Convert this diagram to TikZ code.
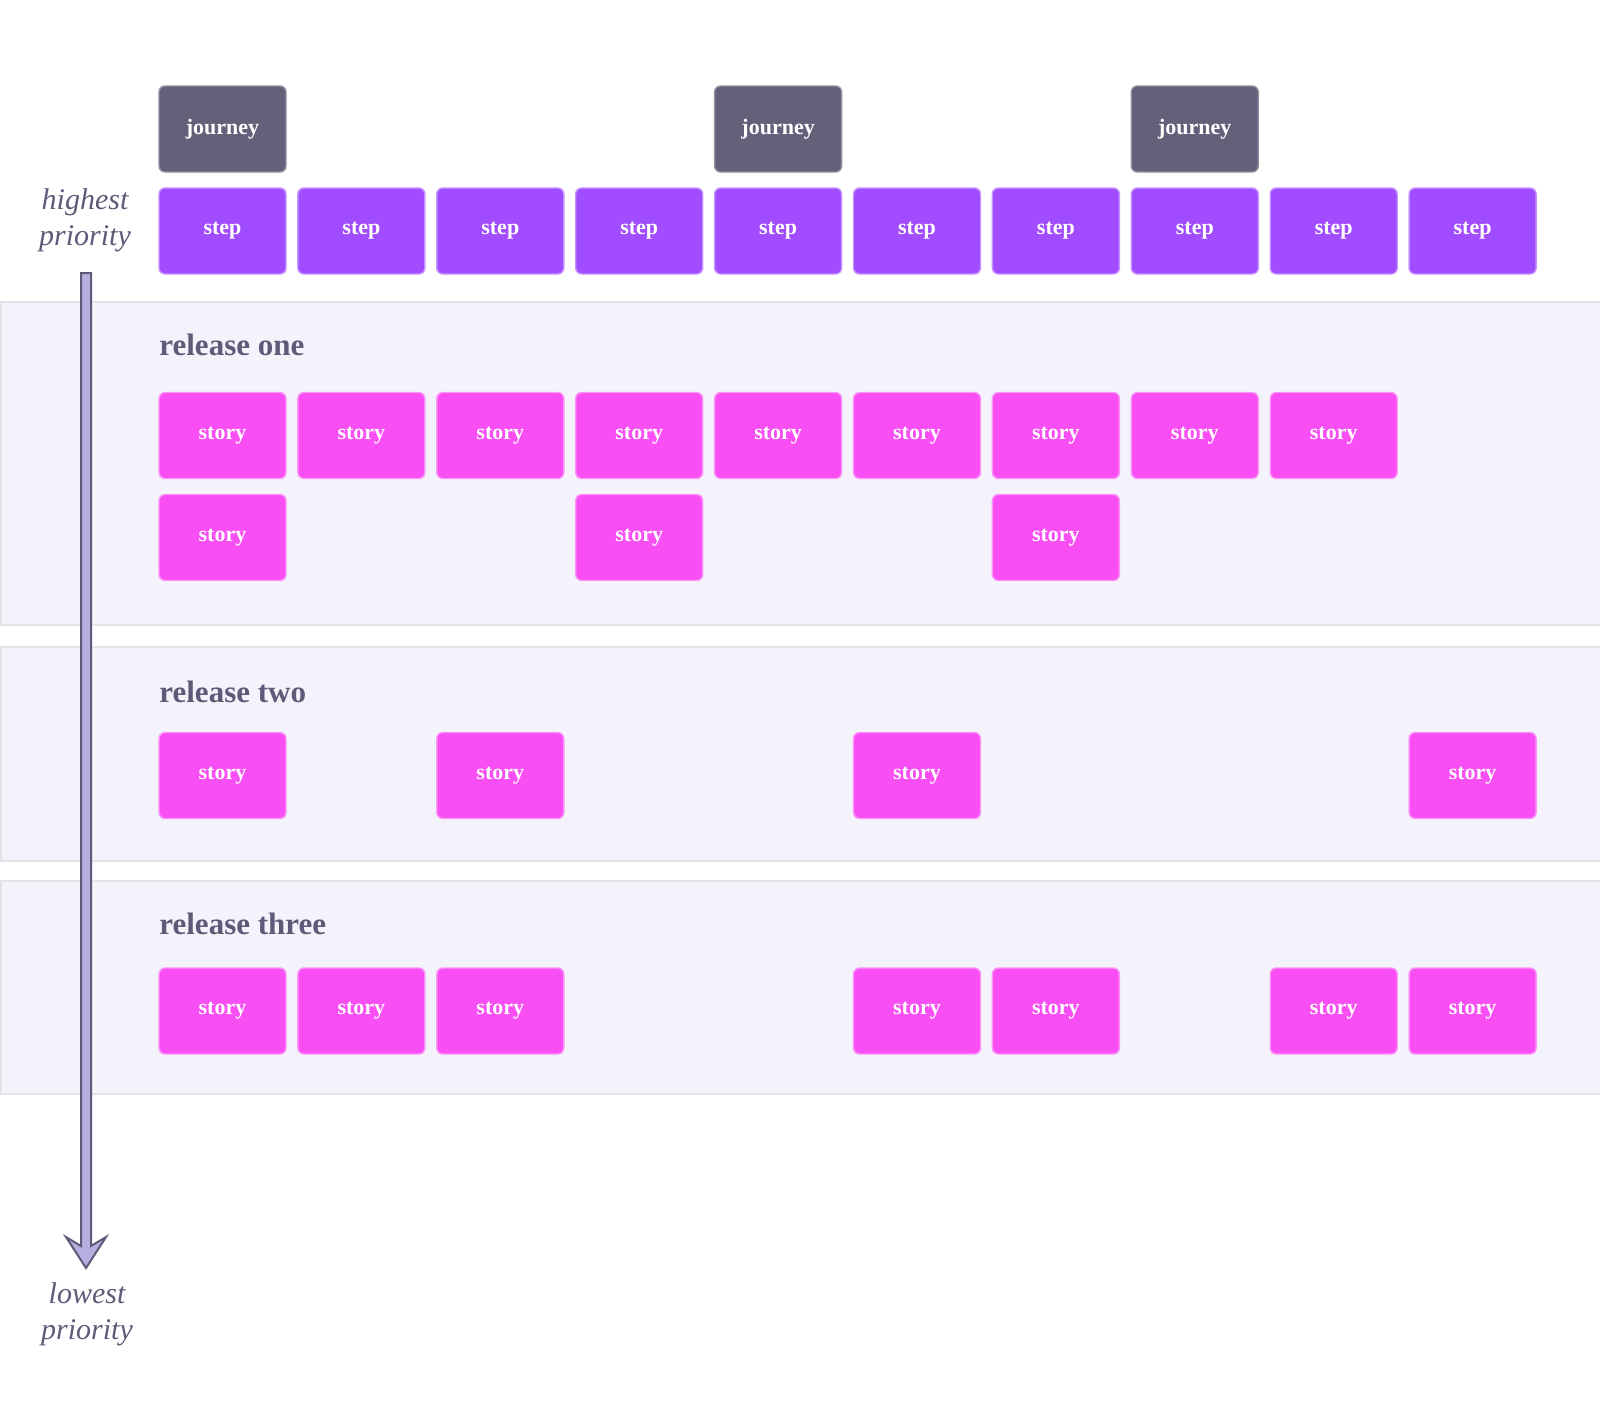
\documentclass[tikz,border=0pt]{standalone}
\usepackage{fontspec}
\setmainfont{Liberation Serif}
\usetikzlibrary{arrows}
\definecolor{journeyGrey}{HTML}{646079}
\definecolor{stepPurple}{HTML}{A14CFF}
\definecolor{storyPink}{HTML}{F84EF3}
\definecolor{bandFill}{HTML}{F4F3FC}
\definecolor{bandLine}{HTML}{E3E2E9}
\definecolor{inkGrey}{HTML}{5E5A77}
\definecolor{arrowFill}{HTML}{B8AEE0}

\begin{document}
\begin{tikzpicture}[x = 0.5pt, y = -0.5pt, font = \rmfamily]
	\tikzstyle{bandStyle} = [fill = bandFill, draw = bandLine, line width = 1pt]
	\tikzstyle{cardStyle} = [shape = rectangle, rounded corners = 3pt, minimum width = 63.5pt, minimum height = 43pt, inner sep = 0pt, line width = 0.7pt, text = white, font = \fontsize{11}{13}\selectfont\bfseries]
	\tikzstyle{journeyStyle} = [cardStyle, fill = journeyGrey, draw = journeyGrey!70!white]
	\tikzstyle{stepStyle} = [cardStyle, fill = stepPurple, draw = stepPurple!60!white]
	\tikzstyle{storyStyle} = [cardStyle, fill = storyPink, draw = storyPink!60!white]
	\tikzstyle{titleStyle} = [anchor = base west, inner sep = 0pt, text = inkGrey, font = \fontsize{15.5}{18}\selectfont\bfseries]
	\tikzstyle{priorityStyle} = [align = center, inner sep = 0pt, text = inkGrey, font = \fontsize{15}{18}\selectfont\itshape]
	\tikzstyle{arrowStyle} = [fill = arrowFill, draw = inkGrey, line width = 1pt, line join = miter]
	\useasboundingbox (0,0) rectangle (1600,1424);
	% release bands
	\draw[bandStyle] (1,302) rectangle (1620,625);
	\draw[bandStyle] (1,647) rectangle (1620,861);
	\draw[bandStyle] (1,881) rectangle (1620,1094);
	% journeys
	\node[journeyStyle] (j0) at (222.5,129) {journey};
	\node[journeyStyle] (j4) at (778.1,129) {journey};
	\node[journeyStyle] (j7) at (1194.8,129) {journey};
	% steps
	\node[stepStyle] (s0) at (222.5,231) {step};
	\node[stepStyle] (s1) at (361.4,231) {step};
	\node[stepStyle] (s2) at (500.3,231) {step};
	\node[stepStyle] (s3) at (639.2,231) {step};
	\node[stepStyle] (s4) at (778.1,231) {step};
	\node[stepStyle] (s5) at (917.0,231) {step};
	\node[stepStyle] (s6) at (1055.9,231) {step};
	\node[stepStyle] (s7) at (1194.8,231) {step};
	\node[stepStyle] (s8) at (1333.7,231) {step};
	\node[stepStyle] (s9) at (1472.6,231) {step};
	% release one
	\node[titleStyle] (rel1) at (159,355) {release one};
	\node[storyStyle] (r1a0) at (222.5,435.5) {story};
	\node[storyStyle] (r1a1) at (361.4,435.5) {story};
	\node[storyStyle] (r1a2) at (500.3,435.5) {story};
	\node[storyStyle] (r1a3) at (639.2,435.5) {story};
	\node[storyStyle] (r1a4) at (778.1,435.5) {story};
	\node[storyStyle] (r1a5) at (917.0,435.5) {story};
	\node[storyStyle] (r1a6) at (1055.9,435.5) {story};
	\node[storyStyle] (r1a7) at (1194.8,435.5) {story};
	\node[storyStyle] (r1a8) at (1333.7,435.5) {story};
	\node[storyStyle] (r1b0) at (222.5,537.5) {story};
	\node[storyStyle] (r1b3) at (639.2,537.5) {story};
	\node[storyStyle] (r1b6) at (1055.9,537.5) {story};
	% release two
	\node[titleStyle] (rel2) at (159,702) {release two};
	\node[storyStyle] (r2a0) at (222.5,775.5) {story};
	\node[storyStyle] (r2a2) at (500.3,775.5) {story};
	\node[storyStyle] (r2a5) at (917.0,775.5) {story};
	\node[storyStyle] (r2a9) at (1472.6,775.5) {story};
	% release three
	\node[titleStyle] (rel3) at (159,934) {release three};
	\node[storyStyle] (r3a0) at (222.5,1011) {story};
	\node[storyStyle] (r3a1) at (361.4,1011) {story};
	\node[storyStyle] (r3a2) at (500.3,1011) {story};
	\node[storyStyle] (r3a5) at (917.0,1011) {story};
	\node[storyStyle] (r3a6) at (1055.9,1011) {story};
	\node[storyStyle] (r3a8) at (1333.7,1011) {story};
	\node[storyStyle] (r3a9) at (1472.6,1011) {story};
	% priority arrow
	\node[priorityStyle] (high) at (85,220) {highest\\priority};
	\node[priorityStyle] (low) at (87,1314) {lowest\\priority};
	\coordinate (arrowTop) at (86,273);
	\coordinate (arrowTip) at (86,1268);
	\draw[arrowStyle] (arrowTop) ++(-5,0) -- ++(0,973) -- ++(-15,-9) -- (arrowTip) -- ++(20,-31) -- ++(-15,9) -- ++(0,-973) -- cycle;
\end{tikzpicture}
\end{document}
